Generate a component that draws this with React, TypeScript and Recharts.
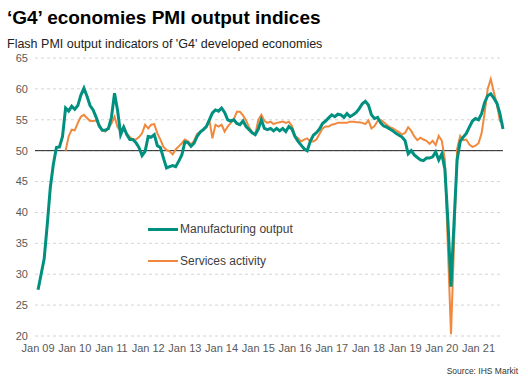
import React from 'react';
import { LineChart, Line, XAxis, YAxis, CartesianGrid, ReferenceLine } from 'recharts';

// monthly, Jan 2009 .. Sep 2021
const manufacturing = [
  27.5, 30.0, 32.5, 38.0, 44.0, 47.8, 50.5, 50.6, 52.3, 56.9, 56.4, 57.2,
  56.7, 57.3, 59.0, 60.1, 58.8, 57.3, 56.6, 55.4, 54.0, 53.3, 53.3, 53.6,
  55.4, 59.3, 56.5, 52.6, 53.8, 52.6, 51.8, 51.8, 51.3, 50.5, 49.2, 49.9,
  52.3, 52.2, 52.6, 50.8, 50.5, 48.8, 47.2, 47.4, 47.6, 47.4, 48.3, 49.3,
  51.4, 51.3, 50.7, 51.2, 52.3, 53.0, 53.4, 53.9, 55.0, 56.1, 56.6, 56.4,
  56.9, 56.2, 55.0, 54.8, 55.0, 54.4, 54.2, 54.8, 53.9, 53.4, 52.9, 52.6,
  53.5, 55.0, 53.6, 53.4, 53.6, 53.2, 53.6, 53.2, 53.6, 53.1, 53.9, 53.5,
  52.3, 51.5, 50.9, 50.3, 50.0, 51.5, 52.5, 52.9, 53.5, 54.4, 54.8, 55.3,
  55.8, 55.5, 55.9, 55.8, 55.4, 56.0, 55.5, 55.8, 56.2, 56.8, 57.6, 58.0,
  57.4, 55.8, 55.2, 55.4, 54.5, 54.0, 53.8, 53.5, 53.2, 52.8, 52.5, 52.2,
  51.6, 49.5, 50.0, 49.3, 48.9, 48.5, 48.4, 48.8, 48.8, 49.0, 49.8, 48.5,
  49.5, 47.0, 38.5, 28.0, 38.5, 48.5, 51.5, 52.2, 52.8, 53.8, 54.8, 55.2,
  55.0, 56.0, 57.8, 58.9, 59.2, 58.5, 57.7, 56.0, 53.5,
];

const services = [
  null, null, null, null, null, null, null, null, null, 50.0, 52.3, 53.4,
  53.3, 54.5, 55.5, 55.8, 55.3, 54.8, 54.8, 54.9, 54.2, 53.3, 53.1, 53.6,
  54.4, 55.5, 53.8, 53.2, 53.9, 52.8, 52.2, 51.8, 51.8, 52.2, 52.8, 54.2,
  53.6, 54.2, 54.3, 52.8, 51.8, 50.6, 50.1, 49.9, 49.4, 50.2, 50.7, 51.2,
  51.8, 51.5, 51.0, 51.6, 52.7, 53.0, 53.3, 53.8, 55.0, 52.0, 54.2, 53.9,
  54.2, 53.1, 53.9, 54.5, 55.1, 56.3, 56.3, 55.7, 54.9, 53.8, 53.0, 52.6,
  55.0, 55.8, 54.8, 54.5, 54.7, 54.3, 54.5, 54.6, 54.7, 54.5, 54.7, 54.0,
  52.4, 52.0, 51.5, 51.8, 52.0, 51.5, 51.5, 51.8, 52.7, 53.6, 53.9, 53.9,
  54.2, 54.3, 54.5, 54.5, 54.5, 54.5, 54.7, 54.7, 54.6, 54.6, 54.5, 54.3,
  54.9, 53.6, 54.0, 54.8, 55.0, 54.6, 54.2, 53.8, 53.6, 53.3, 53.0, 52.6,
  52.9, 53.8, 53.2, 52.3, 51.7, 52.1, 51.8, 51.6, 51.1, 51.6, 50.9, 52.4,
  51.6, 48.5, 34.0, 20.3, 35.0, 50.3, 52.4, 51.7, 51.8, 51.0, 50.6, 50.8,
  51.2, 52.8, 56.1, 60.0, 61.6, 59.5, 57.5, 54.8, 54.3,
];

const yearLabels = [
  'Jan 09', 'Jan 10', 'Jan 11', 'Jan 12', 'Jan 13', 'Jan 14', 'Jan 15',
  'Jan 16', 'Jan 17', 'Jan 18', 'Jan 19', 'Jan 20', 'Jan 21',
];
const yTicks = [20, 25, 30, 35, 40, 45, 50, 55, 60, 65];

const data = manufacturing.map((v, i) => ({ i, manufacturing: v, services: services[i] }));
const xTicks = yearLabels.map((_, k) => k * 12);

const FONT = '"Liberation Sans", Arial, Helvetica, sans-serif';
const TEAL = '#00907f';
const ORANGE = '#f0893e';

function LegendRow({ color, w, label, top }: { color: string; w: number; label: string; top: number }) {
  return (
    <div style={{ position: 'absolute', left: 148, top, display: 'flex', alignItems: 'center', height: 16 }}>
      <div style={{ width: 30, height: w, background: color }} />
      <span style={{ marginLeft: 2, fontSize: 12, color: '#404040', lineHeight: '16px' }}>{label}</span>
    </div>
  );
}

export default function App() {
  return (
    <div style={{ position: 'fixed', left: 0, top: 0, width: 528, height: 384, background: '#fff', fontFamily: FONT, overflow: 'hidden' }}>
      <div style={{ position: 'absolute', left: 7, top: 8, fontSize: 19, fontWeight: 'bold', color: '#000', lineHeight: '20px' }}>
        ‘G4’ economies PMI output indices
      </div>
      <div style={{ position: 'absolute', left: 7, top: 37, fontSize: 12.5, color: '#222', lineHeight: '14px' }}>
        Flash PMI output indicators of 'G4' developed economies
      </div>
      <LineChart width={528} height={384} data={data} margin={{ top: 58, right: 25, bottom: 18, left: 5 }}>
        <CartesianGrid vertical={false} stroke="#d4d4d4" strokeDasharray="3 3" />
        <XAxis
          dataKey="i"
          type="number"
          domain={[-1, 152]}
          ticks={xTicks}
          tickFormatter={(v: number) => yearLabels[v / 12]}
          axisLine={false}
          tickLine={false}
          tickSize={0}
          tickMargin={8}
          height={30}
          interval={0}
          tick={{ fill: '#595959', fontSize: 11, fontFamily: FONT }}
        />
        <YAxis
          domain={[20, 65]}
          ticks={yTicks}
          axisLine={false}
          tickLine={false}
          tickSize={0}
          tickMargin={7}
          width={30}
          interval={0}
          tick={{ fill: '#595959', fontSize: 11, fontFamily: FONT }}
        />
        <ReferenceLine y={50} stroke="#222" strokeWidth={1} />
        <Line type="linear" dataKey="services" stroke={ORANGE} strokeWidth={2} dot={false} isAnimationActive={false} />
        <Line type="linear" dataKey="manufacturing" stroke={TEAL} strokeWidth={3} dot={false} isAnimationActive={false} />
      </LineChart>
      <LegendRow color={TEAL} w={3} label="Manufacturing output" top={221} />
      <LegendRow color={ORANGE} w={2} label="Services activity" top={253} />
      <div style={{ position: 'absolute', right: 10, top: 366, fontSize: 8.5, color: '#333' }}>
        Source: IHS Markit
      </div>
    </div>
  );
}
